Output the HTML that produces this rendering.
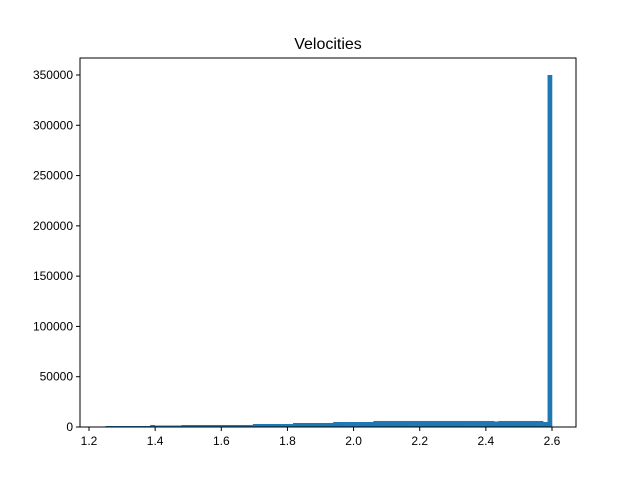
<!DOCTYPE html>
<html><head><meta charset="utf-8"><style>body{margin:0;background:#fff}svg{display:block;font-family:"Liberation Sans","DejaVu Sans",sans-serif}</style></head>
<body>
<svg id="chart" width="640" height="480"></svg>
<script>
const binStart = 1.25;
const binWidth = 0.0135;
const counts = [1000,1000,1000,1000,1000,1000,1000,1000,1000,1000,
2000,1500,1500,1500,1500,1500,1500,2000,2000,2000,
2000,2000,2000,2000,2000,2000,2000,2000,2000,2000,
2000,2000,2000,3000,3000,3000,3000,3000,3000,3000,
3000,3000,4000,4000,4000,4000,4000,4000,4000,4000,
4000,5000,5000,5000,5000,5000,5000,5000,5000,5000,
6000,6000,6000,6000,6000,6000,6000,6000,6000,6000,
6000,6000,6000,6000,6000,6000,6000,6000,6000,6000,
6000,6000,6000,6000,6000,6000,6000,5500,6000,6000,
6000,6000,6000,6000,6000,6000,6000,6000,5000,350000];
const xTicks = [1.2,1.4,1.6,1.8,2.0,2.2,2.4,2.6];
const xTickLabels = ["1.2","1.4","1.6","1.8","2.0","2.2","2.4","2.6"];
const yTicks = [0,50000,100000,150000,200000,250000,300000,350000];
const yTickLabels = ["0","50000","100000","150000","200000","250000","300000","350000"];

const NS="http://www.w3.org/2000/svg";
const svg=document.getElementById('chart');
const L=80,R=576,T=58,B=427;
const xs=v=>89+(v-1.2)*(463/1.4);
const ys=v=>B-v*(352/350000);
function mk(tag,attrs,parent){const e=document.createElementNS(NS,tag);for(const k in attrs)e.setAttribute(k,attrs[k]);(parent||svg).appendChild(e);return e;}

const title=mk('text',{x:328,y:49,'text-anchor':'middle','font-size':16,fill:'#000'});
title.textContent='Velocities';



const bars=mk('g',{});


counts.forEach((c,i)=>{
  const x0=xs(binStart+i*binWidth),x1=xs(binStart+(i+1)*binWidth);
  const r=mk('rect',{x:x0,y:ys(c),width:x1-x0+0.3,height:B-ys(c),fill:'#1f77b4'},bars);
  
  
});

const frame=mk('rect',{x:L,y:T,width:R-L,height:B-T,fill:'none',stroke:'#000','stroke-width':1});



xTicks.forEach((v,i)=>{
  const x=xs(v);
  const t=mk('line',{x1:x,x2:x,y1:B,y2:B+4,stroke:'#000'});
  
  
  const l=mk('text',{x:x,y:B+18,'text-anchor':'middle','font-size':12});
  l.textContent=xTickLabels[i];
  
  
});
yTicks.forEach((v,i)=>{
  const y=ys(v);
  const t=mk('line',{x1:L-4,x2:L,y1:y,y2:y,stroke:'#000'});
  
  
  const l=mk('text',{x:L-7,y:y+4,'text-anchor':'end','font-size':12});
  l.textContent=yTickLabels[i];
  
  
});
</script>
</body></html>
